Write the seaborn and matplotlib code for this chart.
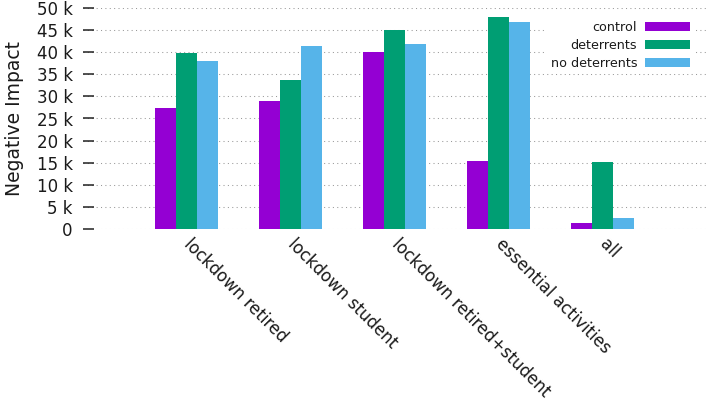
import matplotlib
matplotlib.use("Agg")
import matplotlib.pyplot as plt
import seaborn as sns
import pandas as pd
from matplotlib.ticker import FixedLocator, FixedFormatter

categories = ["lockdown retired", "lockdown student", "lockdown retired+student",
              "essential activities", "all"]
series = ["control", "deterrents", "no deterrents"]
control = [27400, 29000, 40100, 15400, 1400]
deterrents = [39800, 33600, 45000, 47900, 15100]
no_deterrents = [38000, 41300, 41900, 46900, 2600]
colors = ["#9400d3", "#009e73", "#56b4e9"]
ytick_vals = [0, 5000, 10000, 15000, 20000, 25000, 30000, 35000, 40000, 45000, 50000]
ytick_labels = ["0", "5 k", "10 k", "15 k", "20 k", "25 k", "30 k", "35 k", "40 k", "45 k", "50 k"]

rows = []
for name, vals in zip(series, [control, deterrents, no_deterrents]):
    for c, v in zip(categories, vals):
        rows.append({"category": c, "series": name, "value": v})
df = pd.DataFrame(rows)

sns.set_theme(style="white")
plt.rcParams["font.family"] = ["DejaVu Sans"]

fig = plt.figure(figsize=(7.08, 4.03), dpi=100)
ax = fig.add_axes([82.5 / 708, 174 / 403, 624 / 708, 221 / 403])

sns.barplot(data=df, x="category", y="value", hue="series", order=categories,
            hue_order=series, palette=colors, width=0.6, linewidth=0,
            saturation=1, ax=ax, zorder=3)

ax.set_xlim(-1, 5)
ax.set_ylim(0, 50000)
ax.yaxis.set_major_locator(FixedLocator(ytick_vals))
ax.yaxis.set_major_formatter(FixedFormatter(ytick_labels))
for s in ax.spines.values():
    s.set_visible(False)

ax.grid(axis="y", color="#999999", linestyle=(0, (1, 3.2)), linewidth=0.75, zorder=0)
ax.grid(axis="x", visible=False)
ax.tick_params(axis="y", direction="in", length=8, width=1.1, color="#222222",
               pad=7, labelsize=12, labelcolor="#1a1a1a", left=True)
ax.tick_params(axis="x", length=0, pad=9, labelsize=12, labelcolor="#1a1a1a")
for lab in ax.get_xticklabels():
    lab.set_rotation(-45)
    lab.set_ha("left")
    lab.set_va("center")
    lab.set_rotation_mode("anchor")

ax.set_xlabel("")
ax.set_ylabel("Negative Impact", fontsize=13.5, color="#1a1a1a")
ax.yaxis.set_label_coords(-0.093, 0.5)

leg = ax.legend(loc="upper right", bbox_to_anchor=(0.979, 0.958), markerfirst=False,
                frameon=True, fontsize=9.2, handlelength=3.5, handleheight=0.72,
                handletextpad=0.6, labelspacing=0.38, borderpad=0.3,
                borderaxespad=0)
leg.get_frame().set_facecolor("white")
leg.get_frame().set_edgecolor("none")
leg.get_frame().set_alpha(1)
for t in leg.get_texts():
    t.set_color("#1a1a1a")

fig.savefig("out.png", dpi=100)
